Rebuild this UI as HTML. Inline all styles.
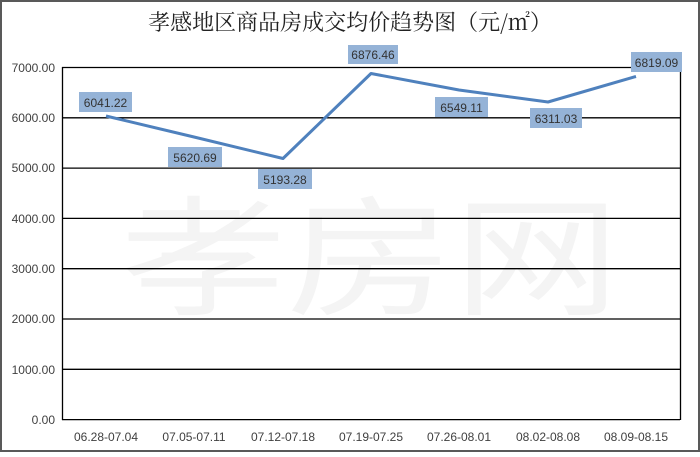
<!DOCTYPE html>
<html><head><meta charset="utf-8"><style>
body{margin:0;background:#fff}
svg text{font-family:"Liberation Sans","Noto Sans CJK SC",sans-serif}
</style></head><body>
<svg width="700" height="452" xmlns="http://www.w3.org/2000/svg">
<rect x="1" y="1" width="698" height="450" fill="#fff" stroke="#595959" stroke-width="2"/>
<text x="350" y="30" text-anchor="middle" font-size="22" style="font-family:'Noto Serif CJK SC',serif" fill="#222">孝感地区商品房成交均价趋势图（元/㎡）</text>
<text x="120" y="305" font-size="130" textLength="500" lengthAdjust="spacingAndGlyphs" fill="#f4f4f4" style="font-family:'Noto Sans CJK SC',sans-serif">孝房网</text>
<g stroke="#000" stroke-width="1.3">
<line x1="62" y1="67.5" x2="680" y2="67.5"/>
<line x1="62" y1="117.8" x2="680" y2="117.8"/>
<line x1="62" y1="168.1" x2="680" y2="168.1"/>
<line x1="62" y1="218.4" x2="680" y2="218.4"/>
<line x1="62" y1="268.7" x2="680" y2="268.7"/>
<line x1="62" y1="319" x2="680" y2="319"/>
<line x1="62" y1="369.3" x2="680" y2="369.3"/>
<line x1="62" y1="419.6" x2="680" y2="419.6"/>
<line x1="62.5" y1="67" x2="62.5" y2="420"/>
<line x1="680.5" y1="67" x2="680.5" y2="420"/>
</g>
<g font-size="12" fill="#404040" text-anchor="end">
<text x="55" y="72">7000.00</text><text x="55" y="122">6000.00</text><text x="55" y="172">5000.00</text><text x="55" y="223">4000.00</text><text x="55" y="273">3000.00</text><text x="55" y="323">2000.00</text><text x="55" y="374">1000.00</text><text x="55" y="424">0.00</text>
</g>
<g font-size="12" fill="#404040" text-anchor="middle">
<text x="106" y="441">06.28-07.04</text><text x="194" y="441">07.05-07.11</text><text x="283" y="441">07.12-07.18</text><text x="371" y="441">07.19-07.25</text><text x="459" y="441">07.26-08.01</text><text x="548" y="441">08.02-08.08</text><text x="636" y="441">08.09-08.15</text>
</g>
<polyline fill="none" stroke="#4f81bd" stroke-width="3" stroke-linejoin="round" points="106,116 194,137 283,158.5 371,73.5 459,90 548,102 636,76.5"/>
<g fill="#95b3d7">
<rect x="79" y="92" width="53" height="20"/>
<rect x="168" y="147" width="54" height="20"/>
<rect x="258" y="169" width="54" height="20"/>
<rect x="348" y="45" width="50" height="19"/>
<rect x="435" y="97" width="53" height="20"/>
<rect x="530" y="108" width="52" height="20"/>
<rect x="631" y="52" width="51" height="20"/>
</g>
<g font-size="12" fill="#333" text-anchor="middle">
<text x="105.5" y="107">6041.22</text>
<text x="195" y="162">5620.69</text>
<text x="285" y="184">5193.28</text>
<text x="373" y="59">6876.46</text>
<text x="461.5" y="112">6549.11</text>
<text x="556" y="123">6311.03</text>
<text x="656.5" y="67">6819.09</text>
</g>
</svg>
</body></html>
